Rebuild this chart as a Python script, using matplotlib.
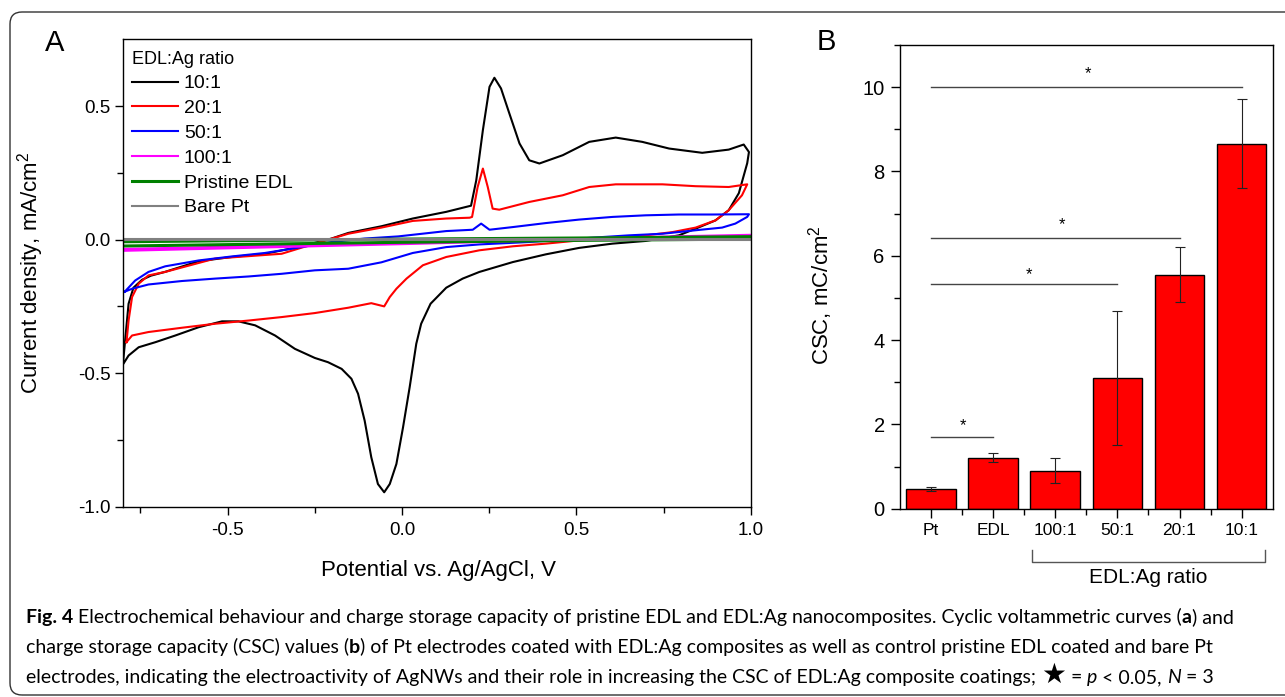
import matplotlib
matplotlib.use("Agg")
import matplotlib.pyplot as plt
from matplotlib.patches import FancyBboxPatch
from matplotlib.ticker import MultipleLocator, FixedLocator
import matplotlib.transforms as mtransforms

plt.rcParams['mathtext.default'] = 'regular'
plt.rcParams['axes.unicode_minus'] = False
SANS = ['Liberation Sans', 'DejaVu Sans']

# ---------------- data: panel A (cyclic voltammograms, forward then reverse) ----------------
cv_10_E = [-0.800, -0.793, -0.784, -0.770, -0.745, -0.720, -0.680, -0.583, -0.488, -0.393,
           -0.297, -0.202, -0.154, -0.059, 0.031, 0.127, 0.198, 0.213, 0.232, 0.251,
           0.265, 0.284, 0.308, 0.337, 0.365, 0.394, 0.461, 0.537, 0.613, 0.689,
           0.766, 0.861, 0.937, 0.980, 0.995,
           0.990, 0.966, 0.937, 0.899, 0.842, 0.794, 0.699, 0.604, 0.508, 0.413,
           0.318, 0.222, 0.174, 0.127, 0.082, 0.055, 0.041, 0.022, 0.003, -0.016,
           -0.035, -0.051, -0.069, -0.088, -0.107, -0.126, -0.145, -0.173, -0.212, -0.250,
           -0.307, -0.364, -0.421, -0.469, -0.516, -0.583, -0.650, -0.707, -0.755, -0.784,
           -0.798]
cv_10_j = [-0.463, -0.365, -0.240, -0.180, -0.150, -0.135, -0.121, -0.081, -0.065, -0.053,
           -0.028, 0.004, 0.025, 0.050, 0.079, 0.104, 0.127, 0.222, 0.410, 0.572,
           0.606, 0.566, 0.472, 0.360, 0.297, 0.285, 0.316, 0.366, 0.382, 0.366,
           0.341, 0.325, 0.337, 0.356, 0.328,
           0.286, 0.174, 0.110, 0.072, 0.041, 0.016, -0.005, -0.015, -0.031, -0.055,
           -0.084, -0.121, -0.146, -0.180, -0.240, -0.315, -0.390, -0.553, -0.703, -0.840,
           -0.915, -0.946, -0.915, -0.815, -0.678, -0.577, -0.521, -0.484, -0.459, -0.443,
           -0.409, -0.359, -0.321, -0.306, -0.306, -0.328, -0.359, -0.384, -0.403, -0.434,
           -0.463]

cv_20_E = [-0.790, -0.784, -0.774, -0.755, -0.727, -0.679, -0.536, -0.345, -0.250, -0.154,
           -0.059, 0.031, 0.127, 0.194, 0.201, 0.217, 0.232, 0.246, 0.260, 0.279,
           0.365, 0.461, 0.537, 0.613, 0.747, 0.842, 0.937, 0.990,
           0.975, 0.937, 0.899, 0.842, 0.775, 0.699, 0.508, 0.413, 0.318, 0.222,
           0.127, 0.060, 0.013, -0.016, -0.035, -0.051, -0.088, -0.154, -0.250, -0.345,
           -0.440, -0.536, -0.631, -0.727, -0.774, -0.790]
cv_20_j = [-0.384, -0.303, -0.215, -0.165, -0.134, -0.121, -0.071, -0.053, -0.015, 0.022,
           0.045, 0.070, 0.079, 0.082, 0.085, 0.197, 0.266, 0.197, 0.116, 0.112,
           0.141, 0.166, 0.197, 0.207, 0.207, 0.200, 0.197, 0.207,
           0.166, 0.110, 0.072, 0.045, 0.028, 0.016, -0.003, -0.015, -0.025, -0.040,
           -0.065, -0.096, -0.146, -0.184, -0.215, -0.250, -0.238, -0.255, -0.275, -0.290,
           -0.303, -0.315, -0.330, -0.346, -0.359, -0.384]

cv_50_E = [-0.795, -0.765, -0.727, -0.679, -0.583, -0.488, -0.393, -0.297, -0.202, -0.107,
           -0.011, 0.127, 0.203, 0.227, 0.251, 0.318, 0.413, 0.508, 0.604, 0.699,
           0.794, 0.890, 0.995,
           0.990, 0.956, 0.918, 0.842, 0.747, 0.651, 0.508, 0.365, 0.222, 0.127,
           0.031, -0.059, -0.154, -0.250, -0.345, -0.440, -0.536, -0.631, -0.727, -0.774,
           -0.795]
cv_50_j = [-0.195, -0.153, -0.121, -0.100, -0.078, -0.063, -0.050, -0.030, -0.009, 0.004,
           0.012, 0.032, 0.037, 0.060, 0.037, 0.047, 0.062, 0.075, 0.085, 0.091,
           0.094, 0.094, 0.095,
           0.085, 0.060, 0.045, 0.035, 0.022, 0.016, 0.004, -0.009, -0.018, -0.028,
           -0.050, -0.085, -0.109, -0.115, -0.128, -0.138, -0.146, -0.155, -0.168, -0.184,
           -0.195]

cv_100_E = [-0.800, 0.000, 0.500, 1.000, 1.000, 0.500, 0.000, -0.800]
cv_100_j = [-0.035, -0.012, 0.005, 0.018, 0.012, 0.000, -0.017, -0.042]

cv_edl_E = [-0.800, 0.000, 0.500, 1.000, 1.000, 0.500, 0.000, -0.800]
cv_edl_j = [-0.008, 0.002, 0.006, 0.011, 0.002, -0.003, -0.010, -0.024]

cv_pt_E = [-0.800, 1.000, 1.000, -0.800]
cv_pt_j = [0.002, 0.002, -0.002, -0.002]

cv_series = [("10:1", cv_10_E, cv_10_j, "black", 1.5),
             ("20:1", cv_20_E, cv_20_j, "#ff0000", 1.5),
             ("50:1", cv_50_E, cv_50_j, "#0000ff", 1.5),
             ("100:1", cv_100_E, cv_100_j, "#ff00ff", 1.5),
             ("Pristine EDL", cv_edl_E, cv_edl_j, "#008000", 2.2),
             ("Bare Pt", cv_pt_E, cv_pt_j, "#808080", 1.5)]

# ---------------- data: panel B (charge storage capacity) ----------------
csc_labels = ["Pt", "EDL", "100:1", "50:1", "20:1", "10:1"]
csc_values = [0.47, 1.21, 0.90, 3.10, 5.55, 8.66]
csc_errors = [0.05, 0.11, 0.30, 1.60, 0.65, 1.05]
sig_pairs = [(1, 2), (1, 4), (1, 5), (1, 6)]
sig_heights = [1.70, 5.33, 6.43, 10.0]
sig_star_x = [1.52, 2.58, 3.10, 3.52]
sig_star_y = [1.96, 5.56, 6.75, 10.33]

W, H = 1285, 697
fig = plt.figure(figsize=(W / 100, H / 100), dpi=100)
fig.patch.set_facecolor("white")

# rounded frame around the whole figure
frame = FancyBboxPatch((0.10, 0.02), 13.5, 6.83, boxstyle="round,pad=0,rounding_size=0.12",
                       transform=fig.dpi_scale_trans, facecolor="none", edgecolor="#333333",
                       linewidth=1.0, clip_on=False)
fig.patches.append(frame)

# ---------------- panel A ----------------
axA = fig.add_axes([123 / W, 1 - 506.7 / H, 627.7 / W, 467.4 / H])
for name, e, j, col, lw in cv_series:
    axA.plot(e, j, color=col, lw=lw, label=name, solid_joinstyle="round")
axA.set_xlim(-0.8, 1.0)
axA.set_ylim(-1.0, 0.75)
axA.xaxis.set_major_locator(FixedLocator([-0.5, 0.0, 0.5, 1.0]))
axA.xaxis.set_minor_locator(FixedLocator([-0.75, -0.25, 0.25, 0.75]))
axA.yaxis.set_major_locator(FixedLocator([-1.0, -0.5, 0.0, 0.5]))
axA.yaxis.set_minor_locator(FixedLocator([-0.75, -0.25, 0.25]))
axA.tick_params(which="major", direction="out", length=6, width=1, labelsize=13.5)
axA.tick_params(which="minor", direction="out", length=4.5, width=1)
axA.tick_params(axis="y", pad=3)
axA.tick_params(axis="x", pad=5)
for lab in axA.get_xticklabels() + axA.get_yticklabels():
    lab.set_family(SANS)
for sp in axA.spines.values():
    sp.set_linewidth(1.0)
axA.set_xlabel("Potential vs. Ag/AgCl, V", fontsize=16, family=SANS)
axA.set_ylabel("Current density, mA/cm$^2$", fontsize=16, family=SANS)
axA.xaxis.set_label_coords(0.503, -0.115)
axA.yaxis.set_label_coords(-0.122, 0.5)
leg = axA.legend(loc="upper left", bbox_to_anchor=(0.014, 0.976), frameon=False,
                 title="EDL:Ag ratio", alignment="left", borderpad=0, borderaxespad=0,
                 handlelength=2.4, handletextpad=0.28, labelspacing=0.37,
                 prop={"family": SANS, "size": 14},
                 title_fontproperties={"family": SANS, "size": 13})
fig.text(55 / W, 1 - 43 / H, "A", fontsize=21, family=SANS, ha="center", va="center")

# ---------------- panel B ----------------
axB = fig.add_axes([900 / W, 1 - 508.7 / H, 372.7 / W, 463.7 / H])
pos = list(range(1, len(csc_labels) + 1))
axB.bar(pos, csc_values, width=0.8, color="#ff0000", edgecolor="black", linewidth=1.0, zorder=2)
axB.errorbar(pos, csc_values, yerr=csc_errors, fmt="none", ecolor="#222222",
             elinewidth=0.8, capsize=3.5, capthick=0.8, zorder=3)
for (a, b), h, sx, sy in zip(sig_pairs, sig_heights, sig_star_x, sig_star_y):
    axB.plot([a, b], [h, h], color="#444444", lw=1.0, zorder=3)
    axB.text(sx, sy, "*", ha="center", va="center", fontsize=12, family=SANS)
axB.set_xlim(0.5, 6.5)
axB.set_ylim(0, 11)
axB.set_xticks(pos)
axB.set_xticklabels(csc_labels, family=SANS, fontsize=12.5)
axB.xaxis.set_minor_locator(FixedLocator([1.5, 2.5, 3.5, 4.5, 5.5]))
axB.yaxis.set_major_locator(MultipleLocator(2))
axB.yaxis.set_minor_locator(MultipleLocator(1))
axB.tick_params(which="major", direction="out", length=6.5, width=1)
axB.tick_params(which="minor", direction="out", length=4, width=1)
axB.tick_params(axis="y", labelsize=14.5, pad=4.5)
axB.tick_params(axis="x", pad=4)
for lab in axB.get_yticklabels():
    lab.set_family(SANS)
for sp in axB.spines.values():
    sp.set_linewidth(1.0)
axB.set_ylabel("CSC, mC/cm$^2$", fontsize=16, family=SANS)
axB.yaxis.set_label_coords(-0.174, 0.46)

# bracket grouping the composite ratios
trB = mtransforms.blended_transform_factory(axB.transData, axB.transAxes)
axB.plot([2.63, 2.63, 6.37, 6.37], [-0.089, -0.116, -0.116, -0.089], color="#555555",
         lw=1.0, transform=trB, clip_on=False)
axB.text(4.5, -0.149, "EDL:Ag ratio", transform=trB, ha="center", va="center",
         fontsize=15, family=SANS)
fig.text(826 / W, 1 - 42 / H, "B", fontsize=21, family=SANS, ha="center", va="center")

# ---------------- caption ----------------
CAP = ["Lato", "DejaVu Sans"]
cap_size = 14.0
fig.canvas.draw()
rend = fig.canvas.get_renderer()


def text_width(s, **kw):
    t = fig.text(0, 0, s, **kw)
    w = t.get_window_extent(rend).width
    t.remove()
    return w


space_w = text_width("n n", family=CAP, fontsize=cap_size) - text_width("nn", family=CAP, fontsize=cap_size)


def caption_line(pieces, y_px, x_px=26):
    x = x_px
    for s, kw in pieces:
        if s.startswith(" "):
            x += space_w
            s = s[1:]
        style = dict(family=CAP, fontsize=cap_size)
        style.update(kw)
        t = fig.text(x / W, 1 - y_px / H, s, ha="left", va="baseline", **style)
        x = t.get_window_extent(rend).x1


bold = {"weight": "bold"}
ital = {"style": "italic"}
caption_line([("Fig. 4", bold),
              (" Electrochemical behaviour and charge storage capacity of pristine EDL and EDL:Ag "
               "nanocomposites. Cyclic voltammetric curves (", {}),
              ("a", bold), (") and", {})], 623)
caption_line([("charge storage capacity (CSC) values (", {}), ("b", bold),
              (") of Pt electrodes coated with EDL:Ag composites as well as control pristine EDL "
               "coated and bare Pt", {})], 653)
caption_line([("electrodes, indicating the electroactivity of AgNWs and their role in increasing "
               "the CSC of EDL:Ag composite coatings;", {}),
              (" \u2605", {"family": ["DejaVu Sans"], "fontsize": 20}),
              (" =", {}), (" p", ital), (" < 0.05,", {}), (" N", ital), (" = 3", {})], 683)

fig.savefig("out.png", dpi=100, facecolor="white")
